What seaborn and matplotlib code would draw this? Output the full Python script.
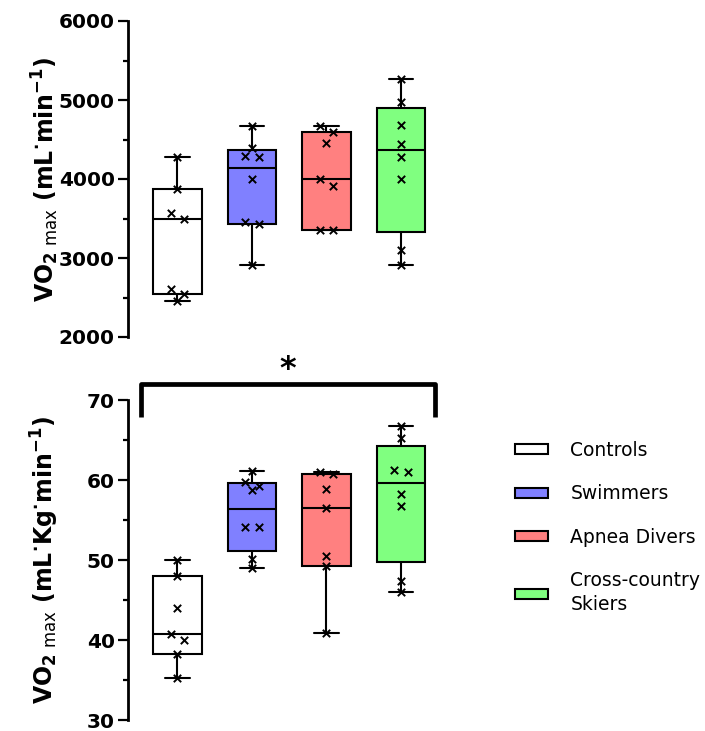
import numpy as np
import pandas as pd
import matplotlib
matplotlib.use("Agg")
import matplotlib.pyplot as plt
import matplotlib.cbook as cbook
import seaborn as sns

# ---------------- data ----------------
groups = ["Controls", "Swimmers", "Apnea Divers", "Cross-country\nSkiers"]
colors = ["#FFFFFF", "#8080FF", "#FF8080", "#80FF80"]

vo2_abs_controls = [4280, 3870, 3565, 3490, 2610, 2545, 2460]
vo2_abs_swimmers = [4670, 4390, 4290, 4275, 3995, 3455, 3425, 2910]
vo2_abs_apnea = [4675, 4590, 4455, 3995, 3915, 3360, 3350]
vo2_abs_skiers = [5265, 4980, 4680, 4445, 4280, 3995, 3100, 2910]

vo2_rel_controls = [50.0, 48.0, 44.0, 40.7, 40.0, 38.3, 35.25]
vo2_rel_swimmers = [61.1, 59.7, 59.2, 58.7, 54.1, 54.1, 50.1, 49.0]
vo2_rel_apnea = [61.0, 60.75, 58.9, 56.5, 50.5, 49.2, 40.9]
vo2_rel_skiers = [66.8, 65.3, 61.3, 61.0, 58.3, 56.7, 47.4, 46.0]

top_ticks = [2000, 3000, 4000, 5000, 6000]
bottom_ticks = [30, 40, 50, 60, 70]


def long_df(series):
    rows = []
    for g, vals in zip(groups, series):
        for v in vals:
            rows.append((g, v))
    return pd.DataFrame(rows, columns=["group", "value"])


df_abs = long_df([vo2_abs_controls, vo2_abs_swimmers, vo2_abs_apnea, vo2_abs_skiers])
df_rel = long_df([vo2_rel_controls, vo2_rel_swimmers, vo2_rel_apnea, vo2_rel_skiers])

# GraphPad-style quartiles ((n+1)p method) for the boxes
_orig_stats = cbook.boxplot_stats


def prism_stats(X, *args, **kwargs):
    stats = _orig_stats(X, *args, **kwargs)
    try:
        for s, x in zip(stats, X):
            x = np.asarray(x, dtype=float)
            q1, med, q3 = np.percentile(x, [25, 50, 75], method="weibull")
            s["q1"], s["med"], s["q3"] = q1, med, q3
    except Exception:
        pass
    return stats


cbook.boxplot_stats = prism_stats

sns.set_theme(style="ticks")
plt.rcParams["font.family"] = ["DejaVu Sans"]
plt.rcParams["mathtext.default"] = "regular"
for k in ["text.color", "axes.labelcolor", "xtick.color", "ytick.color",
          "axes.edgecolor"]:
    plt.rcParams[k] = "black"

fig = plt.figure(figsize=(7.05, 7.31), dpi=100)
W, H = 705, 731
x_left = 128
cat_space = 74.5
xlim = (-0.664, 3.6)
ax_w = (xlim[1] - xlim[0]) * cat_space
ax1 = fig.add_axes([x_left / W, (H - 337) / H, ax_w / W, 316 / H])
ax2 = fig.add_axes([x_left / W, (H - 720) / H, ax_w / W, 320 / H])


def pair_offsets(vals, thresh, off):
    vals = np.asarray(vals, dtype=float)
    order = np.argsort(-vals, kind="stable")
    offs = np.zeros(len(vals))
    i = 0
    while i < len(order):
        a = order[i]
        if i + 1 < len(order) and vals[a] - vals[order[i + 1]] < thresh:
            offs[a] = -off
            offs[order[i + 1]] = off
            i += 2
        else:
            i += 1
    return offs


def draw_panel(ax, df, ylim, ticks, minor, ylabel, legend):
    sns.boxplot(data=df, x="group", y="value", hue="group", order=groups,
                hue_order=groups, palette=colors, saturation=1, whis=(0, 100),
                width=0.65, linewidth=1.5, linecolor="black", showfliers=False,
                legend=legend, ax=ax)
    thresh = 0.022 * (ylim[1] - ylim[0])
    xs = np.zeros(len(df))
    for i, g in enumerate(groups):
        m = (df["group"] == g).to_numpy()
        xs[m] = i + pair_offsets(df.loc[m, "value"].to_numpy(), thresh, 0.088)
    pts = pd.DataFrame({"x": xs, "value": df["value"].to_numpy()})
    sns.scatterplot(data=pts, x="x", y="value", marker="x", color="black",
                    s=28, linewidth=1.4, ax=ax, legend=False, zorder=5)
    ax.set_xlim(*xlim)
    ax.set_ylim(*ylim)
    ax.set_yticks(ticks)
    ax.set_yticks(minor, minor=True)
    ax.set_yticklabels([str(t) for t in ticks], fontsize=14.5, fontweight="bold",
                       color="black")
    ax.tick_params(axis="y", which="major", length=7.5, width=1.6, pad=2, color="black")
    ax.tick_params(axis="y", which="minor", length=3.8, width=1.6, color="black")
    ax.set_xticks([])
    ax.set_xlabel("")
    ax.set_ylabel(ylabel, fontsize=17, fontweight="bold", color="black")
    ax.yaxis.set_label_coords(-0.212, 0.5)
    for sp in ["top", "right", "bottom"]:
        ax.spines[sp].set_visible(False)
    ax.spines["left"].set_linewidth(2.0)
    ax.spines["left"].set_color("black")
    ax.patch.set_alpha(0)


draw_panel(ax1, df_abs, (2000, 6000), top_ticks, [2500, 3500, 4500, 5500],
           r"VO$_{2}$$_{\ \mathrm{max}}$ (mL$^{\cdot}$min$^{\mathbf{-1}}$)", False)
draw_panel(ax2, df_rel, (30, 70), bottom_ticks, [35, 45, 55, 65],
           r"VO$_{2}$$_{\ \mathrm{max}}$ (mL$^{\cdot}$Kg$^{\cdot}$min$^{\mathbf{-1}}$)", True)

# significance bracket
bx = [-0.494, -0.494, 3.456, 3.456]
by = [67.9, 72.0, 72.0, 67.9]
ax2.plot(bx, by, color="black", lw=3.4, clip_on=False, solid_joinstyle="round",
         solid_capstyle="butt", zorder=6)
ax2.text(1.48, 72.8, "*", ha="center", va="baseline", fontsize=23,
         fontweight="bold", clip_on=False, color="black")

sns.move_legend(ax2, "upper left", bbox_to_anchor=(515 / W, 1 - 441 / H),
                bbox_transform=fig.transFigure, frameon=False, title=None,
                fontsize=13.5, handlelength=1.75, handleheight=0.45,
                handletextpad=1.2, labelspacing=1.3, borderpad=0,
                borderaxespad=0)
leg = ax2.get_legend()
for t in leg.get_texts():
    t.set_color("black")
    t.set_linespacing(1.35)

fig.savefig("out.png", dpi=100)
